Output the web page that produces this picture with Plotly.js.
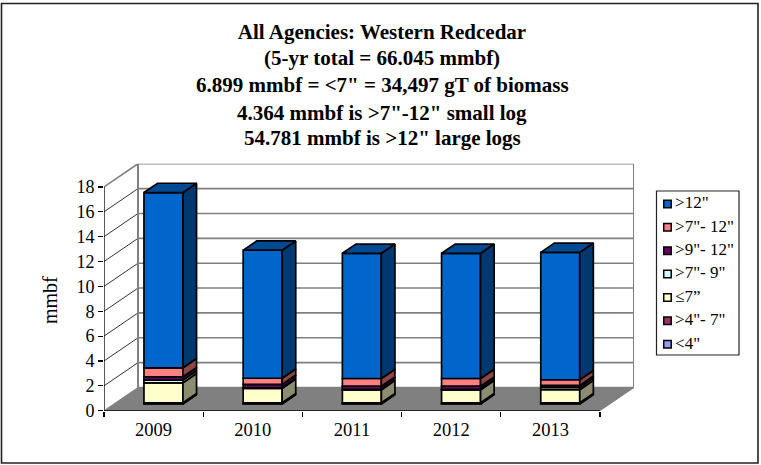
<!DOCTYPE html>
<html><head><meta charset="utf-8">
<script src="https://cdn.plot.ly/plotly-3.0.1.min.js"></script>
<style>html,body{margin:0;padding:0;background:#fff}#c{width:761px;height:465px}</style>
</head><body><div id="c"></div>
<script>
var years = ['2009','2010','2011','2012','2013'];
var yTicks = [0,2,4,6,8,10,12,14,16,18];
var titleLines = ['All Agencies: Western Redcedar','(5-yr total = 66.045 mmbf)','6.899 mmbf = <7" = 34,497 gT of biomass','4.364 mmbf is >7"-12" small log','54.781 mmbf is >12" large logs'];
var titleY = [31.5,57.5,85,112.5,138];

// stacked from the floor up
var under4   = [0.02,0.02,0.02,0.02,0.02];
var from4to7 = [0.08,0.08,0.08,0.08,0.08];
var upTo7    = [1.60,1.15,1.03,1.03,1.05];
var from7to9 = [0.22,0.05,0.05,0.05,0.18];
var from9to12= [0.27,0.28,0.25,0.25,0.17];
var from7to12= [0.72,0.49,0.62,0.62,0.45];
var over12   = [14.1,10.3,10.07,10.07,10.25];

var seriesNames = ['<4"','>4"- 7"','≤7”','>7"- 9"','>9"- 12"','>7"- 12"','>12"'];
var seriesValues = [under4,from4to7,upTo7,from7to9,from9to12,from7to12,over12];
var seriesColors = ['#9999FF','#993366','#FFFFCC','#CCFFFF','#660066','#FF8080','#0066CC'];

// 3D projection, in axis units
var W=761,H=465;
var x0Px=104,catPx=99.2,y0Px=410.7,unitPx=12.43,dXPx=34,dYPx=23.2;
var depthX=dXPx/catPx, depthY=dYPx/unitPx;
var xMin=-0.5,xMax=4.5,yMax=18;
var barW=0.393, f0=0.29, f1=0.69;

function shade(hex,k){
  var n=parseInt(hex.slice(1),16);
  return 'rgb('+Math.round((n>>16&255)*k)+','+Math.round((n>>8&255)*k)+','+Math.round((n&255)*k)+')';
}
var LINE={color:'#000',width:1.7};
var traces=[];
var cum=years.map(function(){return 0;});
var polys=[];
seriesValues.forEach(function(vals,s){
  var bases=cum.map(function(c){return c+f0*depthY;});
  traces.push({type:'bar',name:seriesNames[s],x:years.map(function(_,i){return i+f0*depthX;}),y:vals,base:bases,width:barW,
    marker:{color:seriesColors[s],line:LINE},hoverinfo:'skip',showlegend:false,xaxis:'x',yaxis:'y'});
  years.forEach(function(_,i){
    var xr=i+f0*depthX+barW/2, xl=xr-barW;
    var d=f1-f0, ddx=d*depthX, ddy=d*depthY;
    var b=bases[i], t=b+vals[i];
    polys.push({type:'scatter',mode:'lines',x:[xr,xr+ddx,xr+ddx,xr,xr],y:[b,b+ddy,t+ddy,t,b],fill:'toself',
      fillcolor:shade(seriesColors[s],0.55),line:LINE,hoverinfo:'skip',showlegend:false});
    if(s===seriesValues.length-1){
      polys.push({type:'scatter',mode:'lines',x:[xl,xr,xr+ddx,xl+ddx,xl],y:[t,t,t+ddy,t+ddy,t],fill:'toself',
        fillcolor:shade(seriesColors[s],0.72),line:LINE,hoverinfo:'skip',showlegend:false});
    }
    cum[i]+=vals[i];
  });
});
traces=traces.concat(polys);

// front axis lines
traces.push({type:'scatter',mode:'lines',x:[xMin,xMin],y:[0,yMax],line:{color:'#000',width:1.3},cliponaxis:false,hoverinfo:'skip',showlegend:false});
traces.push({type:'scatter',mode:'lines',x:[xMin,xMax],y:[0,0],line:{color:'#000',width:1.3},cliponaxis:false,hoverinfo:'skip',showlegend:false});

// legend drawn as its own small subplot
var legendOrder=seriesNames.slice().reverse();
var legendColors=seriesColors.slice().reverse();
traces.push({type:'scatter',mode:'markers',xaxis:'x2',yaxis:'y2',x:legendOrder.map(function(){return 0.133;}),y:legendOrder,
  marker:{symbol:'square',size:7.5,color:legendColors,line:{color:'#000',width:1.5}},cliponaxis:false,hoverinfo:'skip',showlegend:false});
traces.push({type:'scatter',mode:'text',xaxis:'x2',yaxis:'y2',x:legendOrder.map(function(){return 0.225;}),y:legendOrder,
  text:legendOrder,textposition:'middle right',textfont:{family:'Liberation Serif',size:17,color:'#000'},cliponaxis:false,hoverinfo:'skip',showlegend:false});

var bx=xMin+depthX, bX=xMax+depthX;
var GRAY='#808080';
var shapes=[];
function seg(x1,y1,x2,y2,c,w){shapes.push({type:'line',xref:'x',yref:'y',x0:x1,y0:y1,x1:x2,y1:y2,line:{color:c,width:w},layer:'below'});}
// floor
shapes.push({type:'path',xref:'x',yref:'y',layer:'below',fillcolor:GRAY,line:{color:GRAY,width:1},
  path:'M'+xMin+',0L'+xMax+',0L'+bX+','+depthY+'L'+bx+','+depthY+'Z'});
yTicks.forEach(function(v){
  seg(bx,v+depthY,bX,v+depthY,GRAY,1.6);
  if(v>0) seg(xMin,v,bx,v+depthY,v===yMax?GRAY:'#333',v===yMax?1.6:1);
});
seg(bx,depthY,bx,yMax+depthY,GRAY,2);
seg(bX,depthY,bX,yMax+depthY,GRAY,2);
// chart frame and legend box
shapes.push({type:'rect',xref:'paper',yref:'paper',x0:1.5/W,x1:758/W,y0:1-463/H,y1:1-3.5/H,line:{color:'#222',width:1.6},layer:'below'});
shapes.push({type:'rect',xref:'paper',yref:'paper',x0:656.5/W,x1:739/W,y0:1-355/H,y1:1-191/H,line:{color:'#222',width:1.2},fillcolor:'#fff',layer:'below'});

var TFONT={family:'Liberation Serif',size:21,color:'#000',weight:700};
var annotations=titleLines.slice(1).map(function(t,i){
  return {text:t,xref:'paper',yref:'paper',x:382/W,y:1-titleY[i+1]/H,xanchor:'center',yanchor:'middle',showarrow:false,font:TFONT};
});
annotations.push({text:'mmbf',xref:'paper',yref:'paper',x:50/W,y:1-300/H,xanchor:'center',yanchor:'middle',showarrow:false,textangle:-90,
  font:{family:'Liberation Serif',size:20,color:'#000'}});

var layout={
  width:W,height:H,margin:{l:0,r:0,t:0,b:0},paper_bgcolor:'#fff',plot_bgcolor:'rgba(0,0,0,0)',
  barmode:'overlay',showlegend:false,
  title:{text:titleLines[0],xref:'paper',yref:'paper',x:382/W,y:1-titleY[0]/H,xanchor:'center',yanchor:'middle',font:TFONT},
  font:{family:'Liberation Serif',color:'#000'},
  xaxis:{domain:[x0Px/W,(x0Px+(bX-xMin)*catPx)/W],range:[xMin,bX],tickmode:'array',tickvals:years.map(function(_,i){return i;}),ticktext:years,
    ticks:'',showgrid:false,zeroline:false,showline:false,tickfont:{size:18.5},ticklabelstandoff:6,
    minor:{tickmode:'array',tickvals:years.map(function(_,i){return i-0.5;}).concat([xMax]),ticks:'outside',ticklen:5,tickwidth:1.2,tickcolor:'#000',showgrid:false}},
  yaxis:{domain:[1-y0Px/H,1-(y0Px-(yMax+depthY)*unitPx)/H],range:[0,yMax+depthY],tickmode:'array',tickvals:yTicks,ticks:'outside',ticklen:5,tickwidth:1.2,tickcolor:'#000',
    showgrid:false,zeroline:false,showline:false,tickfont:{size:18}},
  xaxis2:{domain:[656.5/W,739/W],range:[0,1],visible:false,fixedrange:true,anchor:'y2'},
  yaxis2:{domain:[1-355/H,1-191/H],type:'category',categoryorder:'array',categoryarray:legendOrder,range:[6.46,-0.556],visible:false,fixedrange:true,anchor:'x2'},
  shapes:shapes,annotations:annotations
};
Plotly.newPlot('c',traces,layout,{displayModeBar:false,staticPlot:true});
</script></body></html>
